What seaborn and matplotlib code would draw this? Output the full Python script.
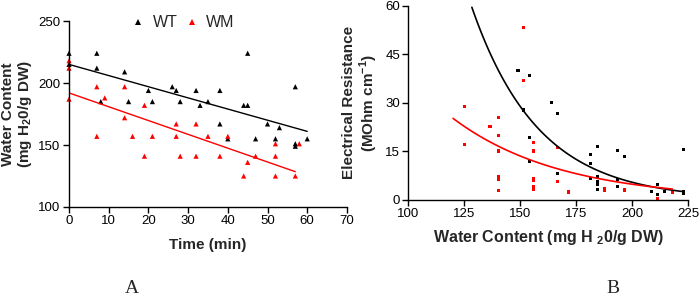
import numpy as np
import pandas as pd
import matplotlib
matplotlib.use('Agg')
import matplotlib.pyplot as plt
import seaborn as sns

# ---------------- PAINEL A: conteudo de agua x tempo ----------------
wt_time = [0, 0, 7, 7, 8, 14, 15, 20, 21, 26, 27, 28, 32, 33, 35, 38, 38, 40,
           44, 45, 45, 47, 50, 52, 53, 57, 57, 57, 60]
wt_water = [224, 215, 224, 212, 185, 209, 185, 194, 185, 197, 194, 185, 194, 182,
            185, 194, 167, 155, 182, 182, 224, 155, 167, 155, 164, 197, 151, 149, 155]

wm_time = [0, 0, 0, 7, 7, 9, 14, 14, 16, 19, 19, 21, 27, 27, 28, 32, 32, 35,
           38, 40, 44, 45, 47, 52, 52, 52, 57, 58]
wm_water = [218, 212, 187, 197, 157, 188, 197, 172, 157, 182, 141, 157, 167, 157,
            141, 167, 141, 157, 141, 157, 125, 136, 141, 151, 141, 125, 125, 151]

# retas ajustadas (intercepto, inclinacao, x final)
wt_line = (215, -0.9, 60)
wm_line = (192, -1.114, 57)

# ---------------- PAINEL B: resistencia x conteudo de agua ----------------
wt_wc = [149, 154, 151.5, 164, 166.5, 154, 154, 166.5, 181.5, 181.5, 181.5, 184.5,
         184.5, 184.5, 184.5, 184.5, 193.5, 193.5, 193.5, 196.5, 208.5, 211.5,
         211.5, 214.5, 223, 223, 223]
wt_res = [40.1, 38.5, 27.8, 30.0, 26.8, 19.3, 11.8, 8.2, 13.9, 11.3, 6.6, 16.4,
          7.1, 5.6, 4.6, 3.2, 15.2, 6.3, 4.0, 13.3, 2.5, 4.6, 1.5, 2.5, 15.6, 2.5, 1.8]

wm_wc = [151.5, 151.5, 125, 136.5, 140.5, 140.5, 125, 156, 166.5, 140.5, 140.5,
         140.5, 140.5, 156, 156, 156, 156, 156, 166.5, 171.5, 187.5, 187.5, 196.5,
         211.5, 218]
wm_res = [53.2, 36.9, 28.8, 22.6, 25.5, 20.0, 17.0, 17.7, 16.2, 15.1, 7.1, 6.4,
          2.8, 15.1, 6.6, 5.9, 4.0, 3.3, 5.6, 2.4, 3.4, 3.0, 3.0, 0.3, 2.2]

# curvas exponenciais (amplitude, x inicial, taxa, x final)
wt_curve = (59.6, 128.4, 0.0335, 223)
wm_curve = (25.2, 120, 0.0207, 218)

cores = {'WT': 'black', 'WM': 'red'}

dfA = pd.DataFrame({
    'tempo': wt_time + wm_time,
    'agua': wt_water + wm_water,
    'grupo': ['WT'] * len(wt_time) + ['WM'] * len(wm_time)})

dfB = pd.DataFrame({
    'agua': wt_wc + wm_wc,
    'resist': wt_res + wm_res,
    'grupo': ['WT'] * len(wt_wc) + ['WM'] * len(wm_wc)})

linhasA = []
for g, (b, m, xf) in [('WT', wt_line), ('WM', wm_line)]:
    xs = np.array([0, xf])
    linhasA.append(pd.DataFrame({'tempo': xs, 'agua': b + m * xs, 'grupo': g}))
linhasA = pd.concat(linhasA)

linhasB = []
for g, (a, x0, k, xf) in [('WT', wt_curve), ('WM', wm_curve)]:
    xs = np.linspace(x0, xf, 100)
    linhasB.append(pd.DataFrame({'agua': xs, 'resist': a * np.exp(-k * (xs - x0)), 'grupo': g}))
linhasB = pd.concat(linhasB)

sns.set_style('ticks')
plt.rcParams['font.family'] = ['Liberation Sans', 'DejaVu Sans']
plt.rcParams['mathtext.fontset'] = 'custom'
plt.rcParams['mathtext.rm'] = 'Liberation Sans'
plt.rcParams['mathtext.bf'] = 'Liberation Sans:bold'

fig = plt.figure(figsize=(7, 2.99), dpi=100)
axA = fig.add_axes([0.0986, 0.3077, 0.397, 0.622])
axB = fig.add_axes([0.5833, 0.332, 0.3996, 0.648])

# ----- grafico A -----
sns.scatterplot(data=dfA, x='tempo', y='agua', hue='grupo', palette=cores,
                marker='^', s=14, linewidth=0, ax=axA, clip_on=False)
sns.lineplot(data=linhasA, x='tempo', y='agua', hue='grupo', palette=cores,
             linewidth=1, ax=axA, legend=False)
axA.set_xlim(0, 70)
axA.set_ylim(100, 250)
axA.set_xticks(range(0, 71, 10))
axA.set_yticks([100, 150, 200, 250])
axA.set_xlabel('Time (min)', fontsize=11, fontweight='bold', labelpad=8)
axA.set_ylabel('Water Content\n(mg H$_\\mathbf{2}$0/g DW)', fontsize=11,
               fontweight='bold', linespacing=1.1)
axA.yaxis.set_label_coords(-0.125, 0.5)
h, l = axA.get_legend_handles_labels()
axA.legend(h, l, loc='center', bbox_to_anchor=(0.405, 0.99), ncol=2, frameon=False,
           fontsize=11.5, handletextpad=0.3, handlelength=1.2, columnspacing=0.3)

# ----- grafico B -----
sns.scatterplot(data=dfB, x='agua', y='resist', hue='grupo', palette=cores,
                marker='s', s=5, linewidth=0, ax=axB, legend=False, clip_on=False)
sns.lineplot(data=linhasB, x='agua', y='resist', hue='grupo', palette=cores,
             linewidth=1.2, ax=axB, legend=False)
axB.set_xlim(100, 225)
axB.set_ylim(0, 60)
axB.set_xticks(range(100, 226, 25))
axB.set_yticks([0, 15, 30, 45, 60])
axB.set_xlabel('Water Content (mg H $_\\mathbf{2}$0/g DW)', fontsize=11.5,
               fontweight='bold', labelpad=6)
axB.set_ylabel('Electrical Resistance\n(MOhm cm$^{\\mathbf{-1}}$)', fontsize=11,
               fontweight='bold', linespacing=1.1)
axB.yaxis.set_label_coords(-0.1, 0.5)

for ax in (axA, axB):
    sns.despine(ax=ax)
    ax.tick_params(labelsize=9.5, length=4, width=1, colors='black', pad=2)
    for s in ('left', 'bottom'):
        ax.spines[s].set_linewidth(1)
        ax.spines[s].set_color('black')

fig.text(0.189, 0.035, 'A', family='Liberation Serif', fontsize=14, ha='center', va='center')
fig.text(0.876, 0.035, 'B', family='Liberation Serif', fontsize=14, ha='center', va='center')

plt.savefig('out.png', dpi=100)
